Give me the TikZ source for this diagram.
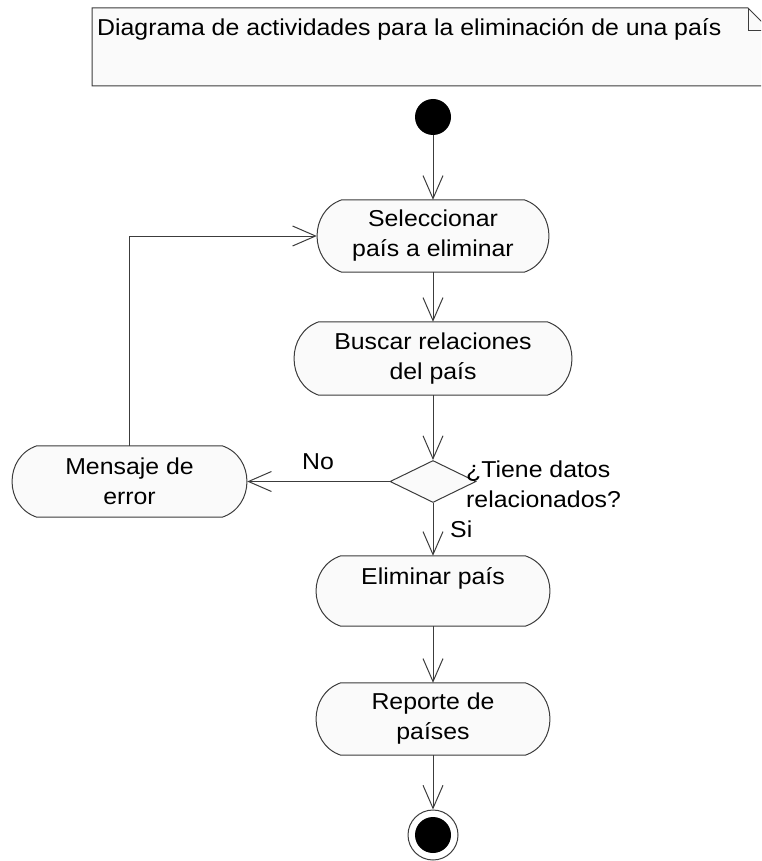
\documentclass[tikz,border=0pt]{standalone}
\usepackage{fontspec}
\setmainfont{Liberation Sans}[FakeStretch=1.08]
\usetikzlibrary{arrows.meta,shapes.geometric}
\pgfdeclarelayer{background}
\pgfsetlayers{background,main}
\definecolor{actfill}{RGB}{250,250,250}
\definecolor{lcol}{RGB}{60,60,60}
\newcommand\fs{\fontsize{23}{30}\selectfont}
\newcommand\actoutline[1]{%
  \begin{pgfonlayer}{background}
  \draw[lc, fill=actfill] ([xshift=25pt]#1.north west) -- ([xshift=-25pt]#1.north east)
    .. controls +(33,11) and +(33,-11) .. ([xshift=-25pt]#1.south east)
    -- ([xshift=25pt]#1.south west)
    .. controls +(-33,-11) and +(-33,11) .. cycle;
  \end{pgfonlayer}}
\tikzset{
  lc/.style={draw=lcol, line width=1pt},
  act/.style={rectangle, inner sep=0pt, align=center, font=\fs},
  flow/.style={lc, -{Straight Barb[length=23pt,width=20pt,line width=1pt]}},
  lbl/.style={inner sep=0pt, anchor=base west, font=\fs, align=left},
}
\begin{document}
\begin{tikzpicture}[x=1pt,y=-1pt]
\useasboundingbox (0,0) rectangle (761,861);
\clip (0,0) rectangle (761,861);
% note
\draw[lc, fill=actfill] (92,8) -- (748,8) -- (771,31) -- (771,86) -- (92,86) -- cycle;
\draw[lc] (748,8) |- (771,31);
\node[lbl] (note) at (97,36) {Diagrama de actividades para la eliminación de una país};
% nodes
\node[circle, fill=black, minimum size=36pt, inner sep=0pt] (init) at (433,117) {};
\node[act, minimum width=232pt, minimum height=72pt] (sel) at (433,236) {Seleccionar\\país a eliminar};
\actoutline{sel}
\node[act, minimum width=278pt, minimum height=73pt] (bus) at (433,358.5) {Buscar relaciones\\del país};
\actoutline{bus}
\node[diamond, lc, fill=actfill, minimum width=86pt, minimum height=42pt, inner sep=0pt] (dec) at (433,481.5) {};
\node[act, minimum width=235pt, minimum height=71pt] (err) at (129.5,481.5) {Mensaje de\\error};
\actoutline{err}
\node[act, minimum width=234pt, minimum height=70pt] (eli) at (433,591) {Eliminar país\\\mbox{}};
\actoutline{eli}
\node[act, minimum width=234pt, minimum height=72pt] (rep) at (433,719) {Reporte de\\países};
\actoutline{rep}
\node[circle, lc, fill=white, minimum size=50pt, inner sep=0pt] (fin) at (433,835) {};
\node[circle, fill=black, minimum size=36pt, inner sep=0pt] (finin) at (fin.center) {};
% labels
\node[lbl] (no) at (302,469) {No};
\node[lbl] (cond) at (466,507) {¿Tiene datos\\relacionados?};
\node[lbl] (si) at (450,537) {Si};
% connectors
\draw[flow] (init) -- (sel);
\draw[flow] (sel) -- (bus);
\draw[flow] (bus) -- (dec);
\draw[flow] (dec.west) -- (err.east);
\draw[flow] (err.north) |- (sel.west);
\draw[flow] (dec.south) -- (eli.north);
\draw[flow] (eli) -- (rep);
\draw[flow] (rep) -- (fin);
\end{tikzpicture}
\end{document}
